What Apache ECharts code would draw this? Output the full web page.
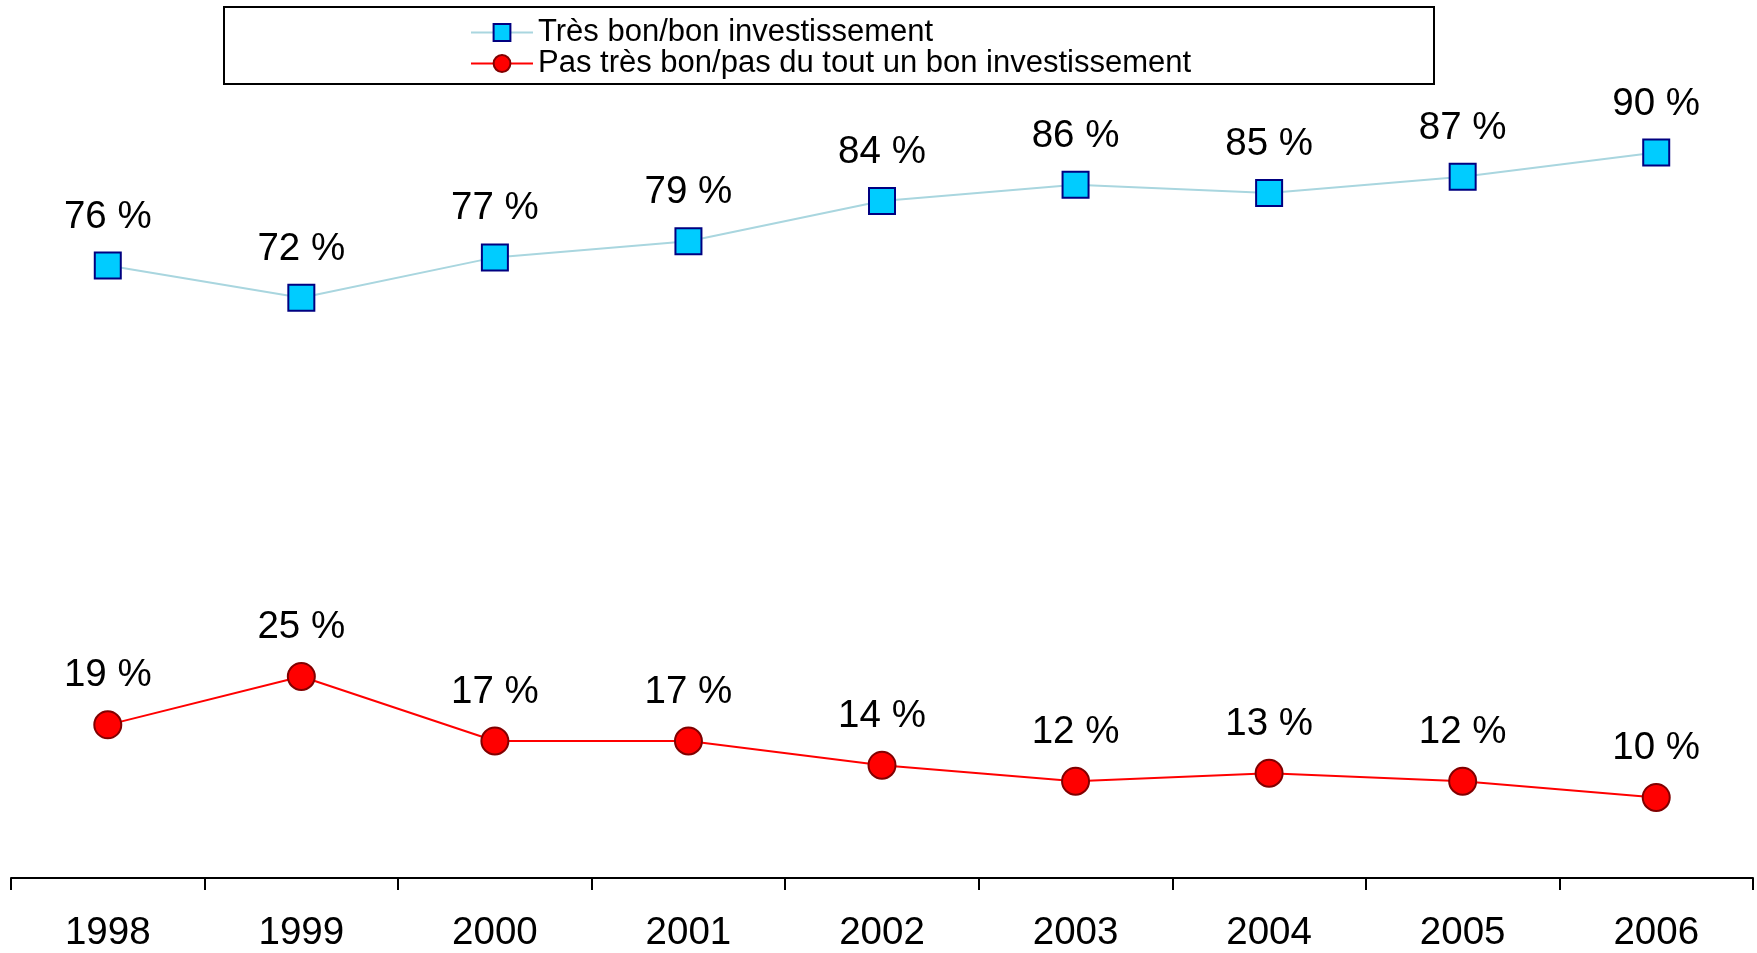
<!DOCTYPE html>
<html>
<head>
<meta charset="utf-8">
<script src="https://cdn.jsdelivr.net/npm/echarts@6/dist/echarts.min.js"></script>
<style>
html,body{margin:0;padding:0;background:#fff;}
#c{width:1757px;height:953px;}
</style>
</head>
<body>
<div id="c"></div>
<script>
const years = ['1998','1999','2000','2001','2002','2003','2004','2005','2006'];
const goodName = 'Très bon/bon investissement';
const badName = 'Pas très bon/pas du tout un bon investissement';
const goodValues = [76, 72, 77, 79, 84, 86, 85, 87, 90];
const badValues = [19, 25, 17, 17, 14, 12, 13, 12, 10];

const FONT = '"Liberation Sans", Arial, sans-serif';
const chart = echarts.init(document.getElementById('c'), null, {renderer: 'canvas'});
const labelCfg = {
  show: true,
  position: 'top',
  distance: 15,
  color: '#000',
  fontSize: 38.5,
  fontFamily: FONT,
  formatter: p => p.value + ' %'
};
chart.setOption({
  animation: false,
  backgroundColor: '#fff',
  graphic: [{
    type: 'rect',
    shape: {x: 224, y: 7, width: 1210, height: 77},
    style: {fill: 'none', stroke: '#000', lineWidth: 2},
    z: 10
  }],
  legend: {
    orient: 'vertical',
    left: 465,
    top: 12,
    itemWidth: 62,
    itemHeight: 21,
    itemGap: 0,
    textStyle: {fontSize: 31, fontFamily: FONT, color: '#000', lineHeight: 31},
    data: [goodName, badName]
  },
  grid: {left: 11, right: 4, top: 72, bottom: 73},
  xAxis: {
    type: 'category',
    data: years,
    boundaryGap: true,
    axisLine: {lineStyle: {color: '#000', width: 2}},
    axisTick: {show: true, length: 12, lineStyle: {color: '#000', width: 2}},
    axisLabel: {fontSize: 38.5, fontFamily: FONT, color: '#000', margin: 36}
  },
  yAxis: {
    type: 'value',
    min: 0,
    max: 100,
    show: false,
    splitLine: {show: false}
  },
  series: [
    {
      name: goodName,
      type: 'line',
      data: goodValues,
      symbol: 'rect',
      symbolSize: 26,
      lineStyle: {color: '#A9D6DF', width: 2},
      itemStyle: {color: '#00CCFF', borderColor: '#000080', borderWidth: 2},
      label: labelCfg
    },
    {
      name: badName,
      type: 'line',
      data: badValues,
      symbol: 'circle',
      symbolSize: 27,
      lineStyle: {color: '#FF0000', width: 2},
      itemStyle: {color: '#FF0000', borderColor: '#800000', borderWidth: 2},
      label: labelCfg
    }
  ]
});
</script>
</body>
</html>
